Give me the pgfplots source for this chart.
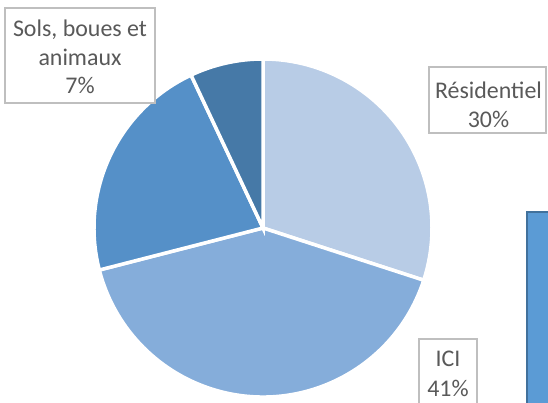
\documentclass[border=0pt]{standalone}
\usepackage{pgfplots}
\pgfplotsset{compat=1.18}
\usepackage{fontspec}
\setmainfont{Carlito}
\definecolor{cRes}{HTML}{B8CCE6}
\definecolor{cICI}{HTML}{85ADDA}
\definecolor{cThird}{HTML}{5590C8}
\definecolor{cSols}{HTML}{4679A7}
\definecolor{txt}{HTML}{595959}
\definecolor{boxc}{HTML}{BFBFBF}
\definecolor{rectfill}{HTML}{5B9BD5}
\definecolor{rectedge}{HTML}{41719C}
% values (percent), clockwise from top
\def\vRes{30}\def\vICI{41}\def\vThird{22}\def\vSols{7}
\pgfmathsetmacro{\aA}{90}
\pgfmathsetmacro{\aB}{\aA-3.6*\vRes}
\pgfmathsetmacro{\aC}{\aB-3.6*\vICI}
\pgfmathsetmacro{\aD}{\aC-3.6*\vThird}
\pgfmathsetmacro{\aE}{\aD-3.6*\vSols}
\def\R{169bp}
\begin{document}
\begin{tikzpicture}
\begin{axis}[width=548bp,height=403bp,scale only axis,hide axis,
  xmin=0,xmax=548,ymin=0,ymax=403]
\begin{scope}
\clip (axis cs:0,0) rectangle (axis cs:548,403);
\fill[cRes,draw=white,line width=3.5bp] (axis cs:263,175) -- ++(\aA:\R) arc[start angle=\aA,end angle=\aB,radius=\R] -- cycle;
\fill[cICI,draw=white,line width=3.5bp] (axis cs:263,175) -- ++(\aB:\R) arc[start angle=\aB,end angle=\aC,radius=\R] -- cycle;
\fill[cThird,draw=white,line width=3.5bp] (axis cs:263,175) -- ++(\aC:\R) arc[start angle=\aC,end angle=\aD,radius=\R] -- cycle;
\fill[cSols,draw=white,line width=3.5bp] (axis cs:263,175) -- ++(\aD:\R) arc[start angle=\aD,end angle=\aE,radius=\R] -- cycle;
% label boxes
\draw[boxc,line width=1.5bp,fill=white] (axis cs:5,300) rectangle (axis cs:155,395);
\draw[boxc,line width=1.5bp,fill=white] (axis cs:429,270) rectangle (axis cs:546,336);
\draw[boxc,line width=1.5bp,fill=white] (axis cs:419,-10) rectangle (axis cs:477,64);
\node[txt,align=center,font=\fontsize{24}{29}\selectfont,anchor=base] at (axis cs:80,309) {Sols, boues et\\animaux\\7\%};
\node[txt,align=center,font=\fontsize{24}{30}\selectfont,anchor=base] at (axis cs:488.5,275) {Résidentiel\\30\%};
\node[txt,align=center,font=\fontsize{24}{30}\selectfont,anchor=base] at (axis cs:448,7) {ICI\\41\%};
% partially visible shape at right
\draw[rectedge,fill=rectfill,line width=2bp] (axis cs:527,-20) rectangle (axis cs:600,191);
\end{scope}
\end{axis}
\end{tikzpicture}
\end{document}
